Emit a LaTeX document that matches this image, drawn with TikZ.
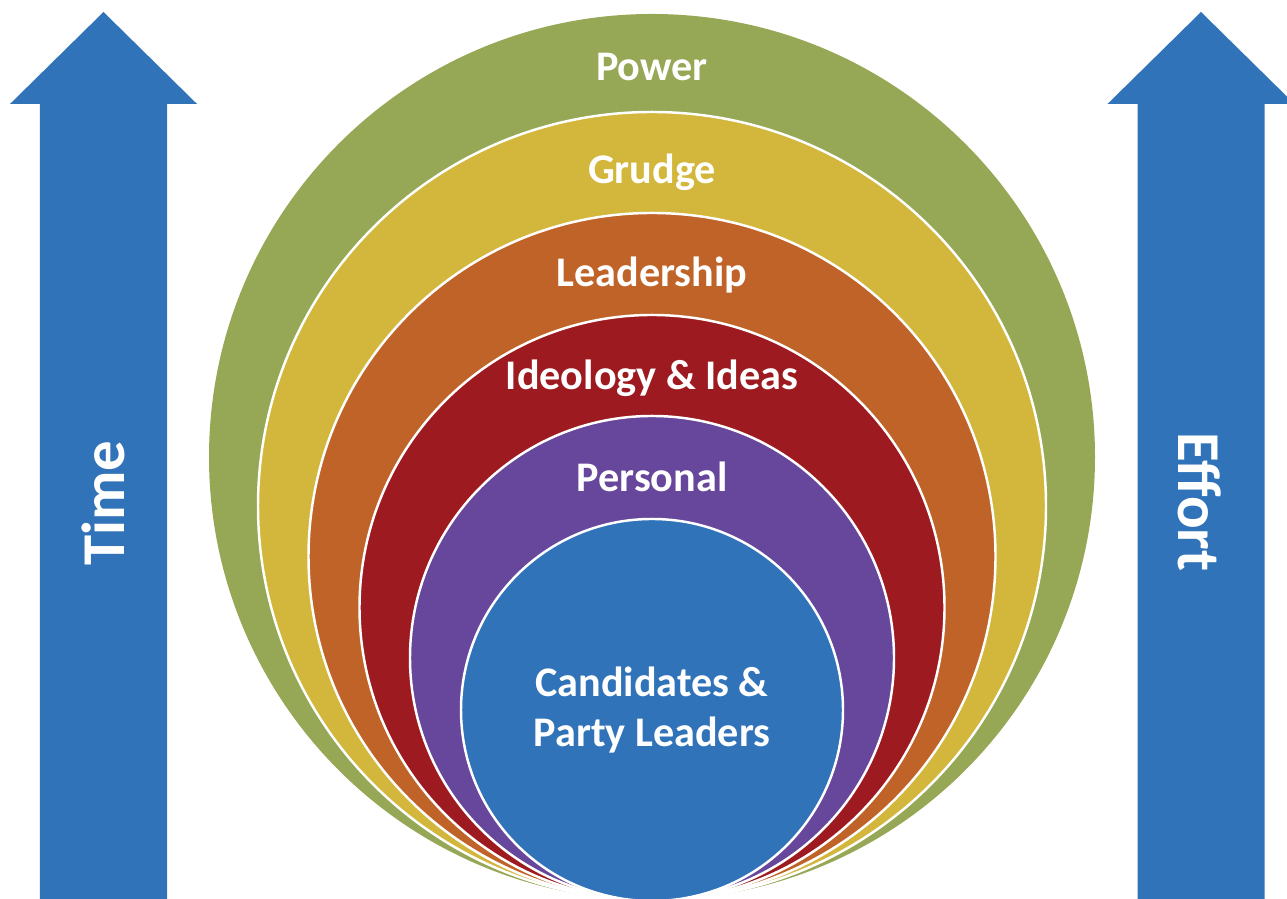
\documentclass[tikz,border=0pt]{standalone}
\usepackage{fontspec}
\setmainfont{Carlito}

\definecolor{arrowblue}{HTML}{3073B8}
\definecolor{powergreen}{HTML}{96A755}
\definecolor{grudgeyellow}{HTML}{D2B73C}
\definecolor{leadorange}{HTML}{C06329}
\definecolor{ideared}{HTML}{9D1B20}
\definecolor{personpurple}{HTML}{67479B}
\definecolor{candblue}{HTML}{3073B8}

\begin{document}
\begin{tikzpicture}[
    ring/.style={shape=circle,draw=white,line width=0.7pt,inner sep=0pt,outer sep=0pt},
    ringtext/.style={text=white,font=\bfseries\fontsize{12}{14.2}\selectfont,anchor=base},
    arrowtext/.style={text=white,font=\bfseries\fontsize{17.3}{20}\selectfont}
]
    \useasboundingbox (0,0) rectangle (12.87,8.99);

    % the two big arrows
    \fill[arrowblue] (0.40,-0.1) -- (0.40,7.95) -- (0.10,7.95) -- (1.035,8.87)
        -- (1.97,7.95) -- (1.67,7.95) -- (1.67,-0.1) -- cycle;
    \fill[arrowblue] (11.375,-0.1) -- (11.375,7.95) -- (11.075,7.95) -- (12.01,8.87)
        -- (12.945,7.95) -- (12.645,7.95) -- (12.645,-0.1) -- cycle;
    \node[arrowtext,rotate=90] (time) at (1.03,3.96) {Time};
    \node[arrowtext,rotate=-90] (effort) at (12.0,3.97) {Effort};

    % nested circles, all touching at the bottom
    \node[ring,draw=none,fill=powergreen,minimum size=8.86cm] (power) at (6.52,4.42) {};
    \node[ring,fill=grudgeyellow,minimum size=7.88cm] (grudge) at (6.52,3.93) {};
    \node[ring,fill=leadorange,minimum size=6.87cm] (leadership) at (6.52,3.425) {};
    \node[ring,fill=ideared,minimum size=5.85cm] (ideology) at (6.52,2.915) {};
    \node[ring,fill=personpurple,minimum size=4.84cm] (personal) at (6.52,2.41) {};
    \node[ring,fill=candblue,minimum size=3.82cm,text=white,align=center,
        font=\bfseries\fontsize{12}{14.2}\selectfont] (candidates) at (6.52,1.89)
        {Candidates \&\\Party Leaders};

    \node[ringtext] (powerlbl) at (6.52,8.18) {Power};
    \node[ringtext] (grudgelbl) at (6.52,7.15) {Grudge};
    \node[ringtext] (leadershiplbl) at (6.52,6.12) {Leadership};
    \node[ringtext] (ideologylbl) at (6.52,5.09) {Ideology \& Ideas};
    \node[ringtext] (personallbl) at (6.52,4.07) {Personal};
\end{tikzpicture}
\end{document}
